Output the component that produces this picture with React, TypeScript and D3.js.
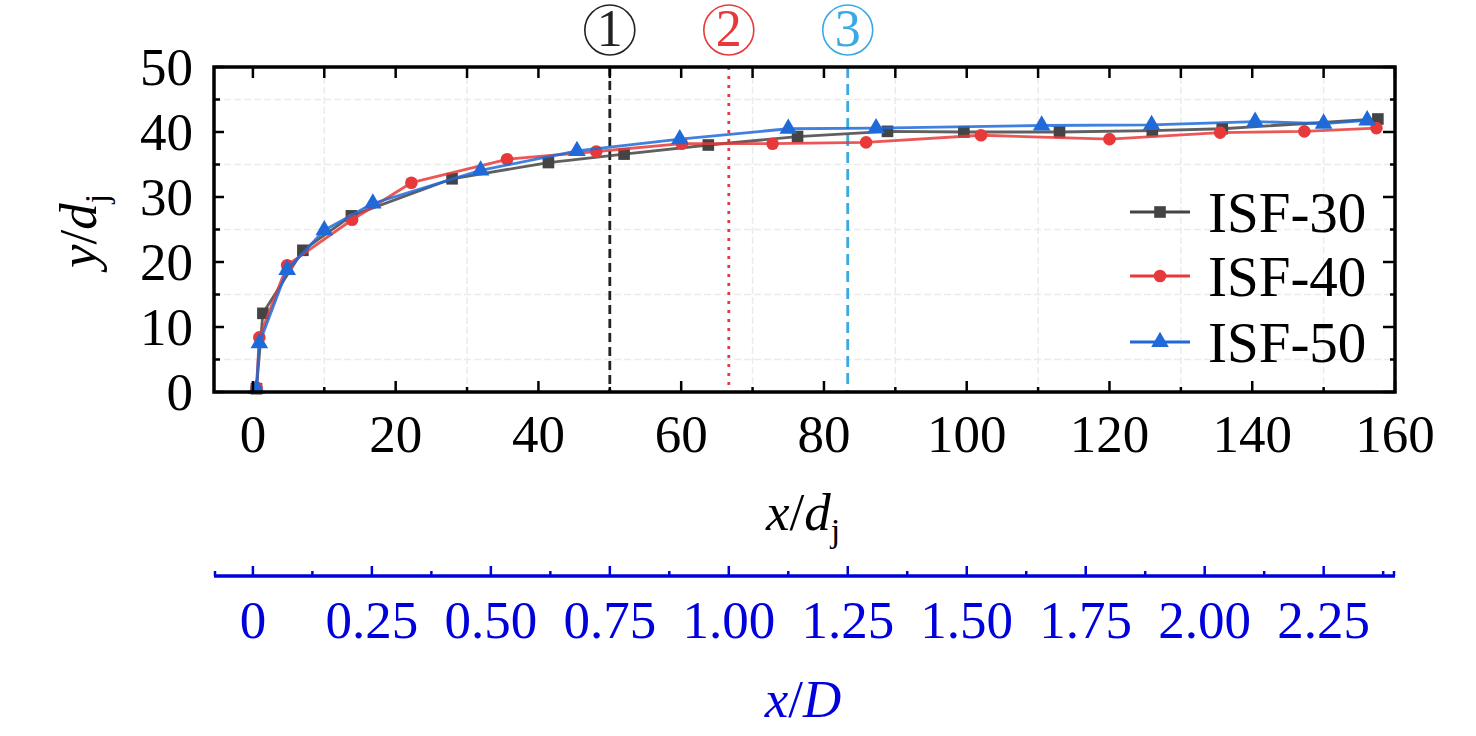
import { useEffect, useRef } from "react"
import * as d3 from "d3"

// x/dj positions and y/dj values
const isf30X = [0.5, 1.4, 7.0, 13.8, 27.9, 41.4, 52.0, 63.8, 76.3, 88.9, 99.6, 113, 126, 135.8, 157.6]
const isf30Y = [0.5, 12.1, 21.8, 27.1, 32.8, 35.3, 36.6, 38.0, 39.3, 40.1, 40.0, 40.0, 40.2, 40.5, 42.0]

const isf40X = [0.5, 0.9, 4.8, 13.9, 22.2, 35.6, 48.1, 60.1, 72.8, 85.9, 102, 120, 135.5, 147.3, 157.4]
const isf40Y = [0.7, 8.4, 19.5, 26.5, 32.2, 35.8, 37.0, 38.2, 38.2, 38.4, 39.5, 38.9, 39.9, 40.1, 40.6]

const isf50X = [0.5, 0.9, 4.8, 10.0, 16.8, 31.9, 45.4, 59.8, 75.0, 87.3, 110.5, 125.9, 140.4, 150, 156.1]
const isf50Y = [0.5, 7.5, 18.8, 24.9, 29.0, 34.1, 37.1, 38.9, 40.5, 40.6, 41.0, 41.1, 41.6, 41.3, 41.8]

const xTicks = [0, 20, 40, 60, 80, 100, 120, 140, 160]
const yTicks = [0, 10, 20, 30, 40, 50]
const xdTicks = [0, 0.25, 0.5, 0.75, 1.0, 1.25, 1.5, 1.75, 2.0, 2.25]
const xdLabels = ["0", "0.25", "0.50", "0.75", "1.00", "1.25", "1.50", "1.75", "2.00", "2.25"]

// positions of the three marked sections (x/dj)
const refLines = [50, 66.67, 83.33]
const refNames = ["1", "2", "3"]

const D_OVER_DJ = 66.67

export default function App() {
  const svgRef = useRef<SVGSVGElement>(null)

  useEffect(() => {
    if (!svgRef.current) return
    const root = d3.select(svgRef.current)
    root.selectAll("*").remove()

    const left = 214, right = 1395, top = 67, bottom = 392
    const font = "'Liberation Serif', 'Times New Roman', serif"

    const x = d3.scaleLinear().domain([-5.45, 160]).range([left, right])
    const y = d3.scaleLinear().domain([0, 50]).range([bottom, top])
    const xd = d3.scaleLinear().domain([-5.45 / D_OVER_DJ, 160 / D_OVER_DJ]).range([left, right])

    const svg = root.append("g")

    // grid at the minor positions
    const gx = d3.range(10, 160, 20)
    const gy = d3.range(5, 50, 10)
    svg.selectAll(".gx").data(gx).enter().append("line")
      .attr("x1", (d) => x(d)).attr("x2", (d) => x(d))
      .attr("y1", top).attr("y2", bottom)
      .attr("stroke", "#ebebeb").attr("stroke-width", 1.5).attr("stroke-dasharray", "7,3")
    svg.selectAll(".gy").data(gy).enter().append("line")
      .attr("x1", left).attr("x2", right)
      .attr("y1", (d) => y(d)).attr("y2", (d) => y(d))
      .attr("stroke", "#ebebeb").attr("stroke-width", 1.5).attr("stroke-dasharray", "7,3")

    // section lines
    const refStyle = [
      { color: "#222222", dash: "9,5" },
      { color: "#e8393a", dash: "3,6" },
      { color: "#39a8e4", dash: "11,6" },
    ]
    refLines.forEach((v, i) => {
      svg.append("line")
        .attr("x1", x(v)).attr("x2", x(v))
        .attr("y1", top).attr("y2", bottom)
        .attr("stroke", refStyle[i].color).attr("stroke-width", 2.8)
        .attr("stroke-dasharray", refStyle[i].dash)
      svg.append("circle")
        .attr("cx", x(v)).attr("cy", 30).attr("r", 25)
        .attr("fill", "none").attr("stroke", refStyle[i].color).attr("stroke-width", 1.6)
      svg.append("text")
        .attr("x", x(v)).attr("y", 46)
        .attr("text-anchor", "middle")
        .attr("font-family", font).attr("font-size", 52)
        .attr("fill", refStyle[i].color)
        .text(refNames[i])
    })

    // series
    const series = [
      { name: "ISF-30", xs: isf30X, ys: isf30Y, color: "#444444", marker: d3.symbolSquare, size: 135 },
      { name: "ISF-40", xs: isf40X, ys: isf40Y, color: "#e8393a", marker: d3.symbolCircle, size: 125 },
      { name: "ISF-50", xs: isf50X, ys: isf50Y, color: "#1f6ad8", marker: d3.symbolTriangle, size: 135 },
    ]

    const line = d3.line<[number, number]>()
      .x((d) => x(d[0]))
      .y((d) => y(d[1]))

    series.forEach((s) => {
      const pts: [number, number][] = s.xs.map((v, i) => [v, s.ys[i]])
      svg.append("path")
        .attr("d", line(pts))
        .attr("fill", "none")
        .attr("stroke", s.color).attr("stroke-width", 2.8).attr("stroke-opacity", 0.85)
        .attr("stroke-linejoin", "round")
      svg.selectAll(null).data(pts).enter().append("path")
        .attr("d", d3.symbol().type(s.marker).size(s.size)())
        .attr("transform", (d) => `translate(${x(d[0])},${y(d[1])})`)
        .attr("fill", s.color)
    })

    // legend
    const legY = [212, 276, 342]
    series.forEach((s, i) => {
      svg.append("line")
        .attr("x1", 1130).attr("x2", 1190)
        .attr("y1", legY[i]).attr("y2", legY[i])
        .attr("stroke", s.color).attr("stroke-width", 2.8)
      svg.append("path")
        .attr("d", d3.symbol().type(s.marker).size(s.size)())
        .attr("transform", `translate(1160,${legY[i]})`)
        .attr("fill", s.color)
      svg.append("text")
        .attr("x", 1208).attr("y", legY[i] + 20)
        .attr("font-family", font).attr("font-size", 57)
        .text(s.name)
    })

    // frame
    svg.append("rect")
      .attr("x", left).attr("y", top)
      .attr("width", right - left).attr("height", bottom - top)
      .attr("fill", "none").attr("stroke", "#000").attr("stroke-width", 3.5)

    // ticks, all pointing inwards
    const tick = (x1: number, y1: number, x2: number, y2: number, color = "#000", w = 2.5) =>
      svg.append("line").attr("x1", x1).attr("y1", y1).attr("x2", x2).attr("y2", y2)
        .attr("stroke", color).attr("stroke-width", w)

    d3.range(0, 161, 10).forEach((v) => {
      const major = v % 20 === 0
      tick(x(v), bottom, x(v), bottom - (major ? 11 : 5))
      tick(x(v), top, x(v), top + 11)
    })
    d3.range(0, 51, 5).forEach((v) => {
      const major = v % 10 === 0
      tick(left, y(v), left + (major ? 10 : 6), y(v))
      tick(right, y(v), right - (major ? 12 : 5), y(v))
    })

    // tick labels
    svg.selectAll(".xl").data(xTicks).enter().append("text")
      .attr("x", (d) => x(d)).attr("y", 452)
      .attr("text-anchor", "middle")
      .attr("font-family", font).attr("font-size", 53)
      .text((d) => d)
    svg.selectAll(".yl").data(yTicks).enter().append("text")
      .attr("x", 193).attr("y", (d) => y(d) + 18)
      .attr("text-anchor", "end")
      .attr("font-family", font).attr("font-size", 53)
      .text((d) => d)

    // axis titles
    const xt = svg.append("text")
      .attr("x", 803).attr("y", 530)
      .attr("text-anchor", "middle")
      .attr("font-family", font).attr("font-size", 53)
    xt.append("tspan").attr("font-style", "italic").text("x")
    xt.append("tspan").text("/")
    xt.append("tspan").attr("font-style", "italic").text("d")
    xt.append("tspan").attr("font-size", 34).attr("dy", 12).text("j")

    const yt = svg.append("text")
      .attr("transform", "translate(96,231) rotate(-90)")
      .attr("text-anchor", "middle")
      .attr("font-family", font).attr("font-size", 53)
    yt.append("tspan").attr("font-style", "italic").text("y")
    yt.append("tspan").text("/")
    yt.append("tspan").attr("font-style", "italic").text("d")
    yt.append("tspan").attr("font-size", 34).attr("dy", 12).text("j")

    // secondary x/D axis
    const blue = "#0000dd"
    const axisY = 576
    svg.append("line")
      .attr("x1", left).attr("x2", right)
      .attr("y1", axisY).attr("y2", axisY)
      .attr("stroke", blue).attr("stroke-width", 3.5)
    tick(left + 1, axisY, left + 1, axisY - 5, blue, 2.5)
    tick(right - 1, axisY, right - 1, axisY - 5, blue, 2.5)
    d3.range(0, 2.4, 0.125).forEach((v) => {
      const major = Math.abs(v / 0.25 - Math.round(v / 0.25)) < 1e-6
      tick(xd(v), axisY, xd(v), axisY - (major ? 10 : 5), blue, 2.5)
    })
    svg.selectAll(".xdl").data(xdTicks).enter().append("text")
      .attr("x", (d) => xd(d)).attr("y", 638)
      .attr("text-anchor", "middle")
      .attr("font-family", font).attr("font-size", 53)
      .attr("fill", blue)
      .text((d, i) => xdLabels[i])
    const xdt = svg.append("text")
      .attr("x", 803).attr("y", 717)
      .attr("text-anchor", "middle")
      .attr("font-family", font).attr("font-size", 53)
      .attr("font-style", "italic")
      .attr("fill", blue)
    xdt.append("tspan").text("x")
    xdt.append("tspan").attr("font-style", "normal").text("/")
    xdt.append("tspan").text("D")
  }, [])

  return (
    <div style={{ position: "absolute", left: 0, top: 0 }}>
      <svg ref={svgRef} width={1476} height={736} style={{ display: "block", background: "#fff" }} />
    </div>
  )
}
